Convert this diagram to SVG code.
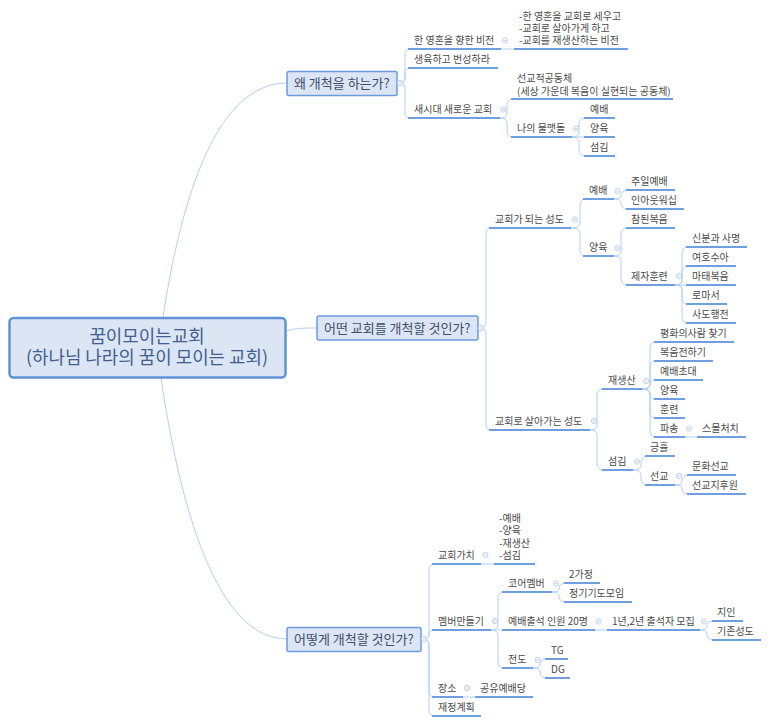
<svg xmlns="http://www.w3.org/2000/svg" xmlns:xlink="http://www.w3.org/1999/xlink" width="770" height="724" viewBox="0 0 770 724">
<style>
text{font-family:"Noto Sans CJK KR","Malgun Gothic","Noto Sans",sans-serif;font-size:10px;fill:#4a4a4a}
.u{stroke:#6f9fe0;stroke-width:2;fill:none}
.k{stroke:#b4cff2;stroke-width:1;fill:none}
.top{fill:#dbe5f3;stroke:#6b9ade;stroke-width:1.5}
.tt{font-size:13px;fill:#3d4d6b}
.rt{font-size:17.900px;fill:#41608f;text-anchor:middle}
</style>
<defs>
<g id="c"><circle r="2.6" fill="#fff" stroke="#bccfee"/><path d="M-1.4 0H1.4" stroke="#bccfee"/></g>
</defs>
<rect width="770" height="724" fill="#fff"/>
<g id="connectors">
<path class="k" d="M163 317C178 220 210 83 287 83"/>
<path class="k" d="M286 331C295 328 305 328 317 328"/>
<path class="k" d="M161 378C176 480 210 639 287 639"/>
<path class="k" d="M400 83Q405 83 405 78L405 55Q405 49 410 49"/>
<path class="k" d="M400 83Q405 83 405 78L405 74Q405 68 410 68"/>
<path class="k" d="M400 83Q405 83 405 88L405 112Q405 118 410 118"/>
<path class="k" d="M501 49H514"/>
<path class="k" d="M500 118Q507 118 507 113L507 105Q507 99 513 99"/>
<path class="k" d="M500 118Q507 118 507 123L507 131Q507 137 513 137"/>
<path class="k" d="M572 137Q579 137 579 132L579 124Q579 118 586 118"/>
<path class="k" d="M572 137H586"/>
<path class="k" d="M572 137Q579 137 579 142L579 150Q579 156 586 156"/>
<path class="k" d="M478 328Q486 328 486 323L486 234Q486 228 491 228"/>
<path class="k" d="M478 328Q486 328 486 333L486 424Q486 430 491 430"/>
<path class="k" d="M571 228Q580 228 580 223L580 205Q580 199 585 199"/>
<path class="k" d="M571 228Q580 228 580 233L580 250Q580 256 585 256"/>
<path class="k" d="M614 199Q621 199 621 196Q621 190 628 190"/>
<path class="k" d="M614 199Q621 199 621 203Q621 209 628 209"/>
<path class="k" d="M614 256Q621 256 621 251L621 234Q621 228 628 228"/>
<path class="k" d="M614 256Q621 256 621 261L621 279Q621 285 628 285"/>
<path class="k" d="M675 285Q682 285 682 280L682 253Q682 247 688 247"/>
<path class="k" d="M675 285Q682 285 682 280L682 272Q682 266 688 266"/>
<path class="k" d="M675 285H688"/>
<path class="k" d="M675 285Q682 285 682 290L682 298Q682 304 688 304"/>
<path class="k" d="M675 285Q682 285 682 290L682 317Q682 323 688 323"/>
<path class="k" d="M590 430Q597 430 597 425L597 395Q597 389 604 389"/>
<path class="k" d="M590 430Q597 430 597 435L597 464Q597 470 604 470"/>
<path class="k" d="M642 389Q650 389 650 384L650 348Q650 342 656 342"/>
<path class="k" d="M642 389Q650 389 650 384L650 367Q650 361 656 361"/>
<path class="k" d="M642 389Q650 389 650 385Q650 380 656 380"/>
<path class="k" d="M642 389Q650 389 650 394Q650 399 656 399"/>
<path class="k" d="M642 389Q650 389 650 394L650 412Q650 418 656 418"/>
<path class="k" d="M642 389Q650 389 650 394L650 431Q650 437 656 437"/>
<path class="k" d="M685 437H697"/>
<path class="k" d="M633 470Q641 470 641 466Q641 456 647 456"/>
<path class="k" d="M633 470Q641 470 641 475L641 479Q641 485 647 485"/>
<path class="k" d="M675 485Q682 485 682 481Q682 475 689 475"/>
<path class="k" d="M675 485Q682 485 682 489Q682 494 689 494"/>
<path class="k" d="M421 639Q429 639 429 634L429 570Q429 564 434 564"/>
<path class="k" d="M421 639Q429 639 429 635Q429 630 434 630"/>
<path class="k" d="M421 639Q429 639 429 644L429 691Q429 697 434 697"/>
<path class="k" d="M421 639Q429 639 429 644L429 710Q429 716 434 716"/>
<path class="k" d="M481 564H494"/>
<path class="k" d="M491 630Q498 630 498 625L498 598Q498 592 504 592"/>
<path class="k" d="M491 630H504"/>
<path class="k" d="M491 630Q498 630 498 635L498 662Q498 668 504 668"/>
<path class="k" d="M552 592Q559 592 559 589Q559 583 566 583"/>
<path class="k" d="M552 592Q559 592 559 596Q559 602 566 602"/>
<path class="k" d="M595 630H607"/>
<path class="k" d="M700 630Q707 630 707 626Q707 621 714 621"/>
<path class="k" d="M700 630Q707 630 707 634Q707 640 714 640"/>
<path class="k" d="M533 668Q540 668 540 665Q540 659 547 659"/>
<path class="k" d="M533 668Q540 668 540 672Q540 678 547 678"/>
<path class="k" d="M463 697H475"/>
</g>
<g id="root"><rect x="9.5" y="318" width="276" height="59.500" rx="4" fill="#dbe5f3" stroke="#5f92d8" stroke-width="2.500"/><text class="rt" x="147" y="343">꿈이모이는교회</text><text class="rt" x="147" y="364">(하나님 나라의 꿈이 모이는 교회)</text></g>
<g id="b1"><rect class="top" x="287" y="71.500" width="110" height="24" rx="2"/><text class="tt" x="294" y="88">왜 개척을 하는가?</text><use xlink:href="#c" href="#c" x="400" y="83"/></g>
<g id="b2"><rect class="top" x="317" y="316" width="161" height="24" rx="2"/><text class="tt" x="324" y="333">어떤 교회를 개척할 것인가?</text><use xlink:href="#c" href="#c" x="481" y="328"/></g>
<g id="b3"><rect class="top" x="287" y="627.500" width="134" height="24" rx="2"/><text class="tt" x="294" y="644">어떻게 개척할 것인가?</text><use xlink:href="#c" href="#c" x="424" y="639"/></g>
<g id="n1"><path class="u" d="M408 49H501"/><text x="414" y="44">한 영혼을 향한 비전</text><use xlink:href="#c" href="#c" x="505" y="40.500"/></g>
<g id="n2"><path class="u" d="M514 49H628"/><text x="519" y="20">-한 영혼을 교회로 세우고</text><text x="519" y="32">-교회로 살아가게 하고</text><text x="519" y="44">-교회를 재생산하는 비전</text></g>
<g id="n3"><path class="u" d="M408 68H498"/><text x="414" y="63">생육하고 번성하라</text></g>
<g id="n4"><path class="u" d="M408 118H500"/><text x="414" y="113">새시대 새로운 교회</text><use xlink:href="#c" href="#c" x="503.500" y="109.500"/></g>
<g id="n5"><path class="u" d="M511 99H673"/><text x="517" y="82">선교적공동체</text><text x="517" y="95">(세상 가운데 복음이 실현되는 공동체)</text></g>
<g id="n6"><path class="u" d="M511 137H572"/><text x="517" y="132">나의 물맷돌</text><use xlink:href="#c" href="#c" x="576" y="128.500"/></g>
<g id="n7"><path class="u" d="M584 118H615"/><text x="590" y="113">예배</text></g>
<g id="n8"><path class="u" d="M584 137H615"/><text x="590" y="132">양육</text></g>
<g id="n9"><path class="u" d="M584 156H615"/><text x="590" y="151">섬김</text></g>
<g id="n10"><path class="u" d="M489 228H571"/><text x="495" y="223">교회가 되는 성도</text><use xlink:href="#c" href="#c" x="575" y="219.500"/></g>
<g id="n11"><path class="u" d="M489 430H590"/><text x="495" y="425">교회로 살아가는 성도</text><use xlink:href="#c" href="#c" x="594" y="421"/></g>
<g id="n12"><path class="u" d="M583 199H614"/><text x="589" y="194">예배</text><use xlink:href="#c" href="#c" x="617.500" y="191"/></g>
<g id="n13"><path class="u" d="M583 256H614"/><text x="589" y="251">양육</text><use xlink:href="#c" href="#c" x="617.500" y="248"/></g>
<g id="n14"><path class="u" d="M626 190H675"/><text x="631" y="185">주일예배</text></g>
<g id="n15"><path class="u" d="M626 209H684"/><text x="631" y="204">인아웃워십</text></g>
<g id="n16"><path class="u" d="M626 228H675"/><text x="631" y="223">참된복음</text></g>
<g id="n17"><path class="u" d="M626 285H675"/><text x="631" y="280">제자훈련</text><use xlink:href="#c" href="#c" x="679" y="276"/></g>
<g id="n18"><path class="u" d="M686 247H747"/><text x="692" y="242">신분과 사명</text></g>
<g id="n19"><path class="u" d="M686 266H736"/><text x="692" y="261">여호수아</text></g>
<g id="n20"><path class="u" d="M686 285H736"/><text x="692" y="280">마태복음</text></g>
<g id="n21"><path class="u" d="M686 304H727"/><text x="692" y="299">로마서</text></g>
<g id="n22"><path class="u" d="M686 323H736"/><text x="692" y="318">사도행전</text></g>
<g id="n23"><path class="u" d="M602 389H642"/><text x="608" y="384">재생산</text><use xlink:href="#c" href="#c" x="646" y="381"/></g>
<g id="n24"><path class="u" d="M602 470H633"/><text x="608" y="465">섬김</text><use xlink:href="#c" href="#c" x="637" y="461.500"/></g>
<g id="n25"><path class="u" d="M654 342H734"/><text x="660" y="337">평화의사람 찾기</text></g>
<g id="n26"><path class="u" d="M654 361H713"/><text x="660" y="356">복음전하기</text></g>
<g id="n27"><path class="u" d="M654 380H703"/><text x="660" y="375">예배초대</text></g>
<g id="n28"><path class="u" d="M654 399H685"/><text x="660" y="394">양육</text></g>
<g id="n29"><path class="u" d="M654 418H685"/><text x="660" y="413">훈련</text></g>
<g id="n30"><path class="u" d="M654 437H685"/><text x="660" y="432">파송</text><use xlink:href="#c" href="#c" x="689" y="428.500"/></g>
<g id="n31"><path class="u" d="M697 437H746"/><text x="702" y="432">스몰처치</text></g>
<g id="n32"><path class="u" d="M645 456H675"/><text x="650" y="451">긍휼</text></g>
<g id="n33"><path class="u" d="M645 485H675"/><text x="650" y="480">선교</text><use xlink:href="#c" href="#c" x="679" y="476"/></g>
<g id="n34"><path class="u" d="M687 475H736"/><text x="692" y="470">문화선교</text></g>
<g id="n35"><path class="u" d="M687 494H746"/><text x="692" y="489">선교지후원</text></g>
<g id="n36"><path class="u" d="M432 564H481"/><text x="438" y="559">교회가치</text><use xlink:href="#c" href="#c" x="485.500" y="555"/></g>
<g id="n37"><path class="u" d="M494 564H535"/><text x="499" y="522">-예배</text><text x="499" y="534">-양육</text><text x="499" y="547">-재생산</text><text x="499" y="559">-섬김</text></g>
<g id="n38"><path class="u" d="M432 630H491"/><text x="438" y="625">멤버만들기</text><use xlink:href="#c" href="#c" x="495" y="621"/></g>
<g id="n39"><path class="u" d="M432 697H463"/><text x="438" y="692">장소</text><use xlink:href="#c" href="#c" x="467" y="688"/></g>
<g id="n40"><path class="u" d="M475 697H533"/><text x="480" y="692">공유예배당</text></g>
<g id="n41"><path class="u" d="M432 716H481"/><text x="438" y="711">재정계획</text></g>
<g id="n42"><path class="u" d="M502 592H552"/><text x="508" y="587">코어멤버</text><use xlink:href="#c" href="#c" x="556" y="583.500"/></g>
<g id="n43"><path class="u" d="M502 630H595"/><text x="508" y="625">예배출석 인원 20명</text><use xlink:href="#c" href="#c" x="598.500" y="621.500"/></g>
<g id="n44"><path class="u" d="M607 630H700"/><text x="612" y="625">1년,2년 출석자 모집</text><use xlink:href="#c" href="#c" x="704" y="621.500"/></g>
<g id="n45"><path class="u" d="M502 668H533"/><text x="508" y="663">전도</text><use xlink:href="#c" href="#c" x="537.500" y="660"/></g>
<g id="n46"><path class="u" d="M564 583H600"/><text x="569" y="578">2가정</text></g>
<g id="n47"><path class="u" d="M564 602H632"/><text x="569" y="597">정기기도모임</text></g>
<g id="n48"><path class="u" d="M712 621H743"/><text x="717" y="616">지인</text></g>
<g id="n49"><path class="u" d="M712 640H761"/><text x="717" y="635">기존성도</text></g>
<g id="n50"><path class="u" d="M545 659H568"/><text x="551" y="654">TG</text></g>
<g id="n51"><path class="u" d="M545 678H570"/><text x="551" y="673">DG</text></g>
</svg>
